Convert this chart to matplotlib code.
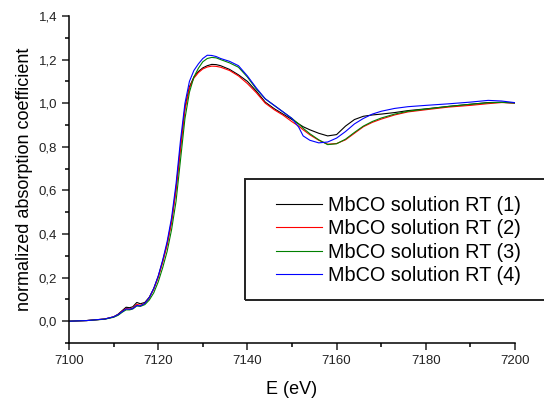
import matplotlib
matplotlib.use("Agg")
from matplotlib import pyplot as plt
from matplotlib.patches import Rectangle
from matplotlib.ticker import MultipleLocator, FuncFormatter

plt.rcParams["font.family"] = ["Liberation Sans", "DejaVu Sans"]

# energy grid (eV)
energy = [7100, 7104, 7108, 7110, 7111, 7112, 7112.8, 7113.6, 7114.3, 7115.2,
          7116, 7117, 7118, 7119, 7120, 7121, 7122, 7123, 7124, 7125,
          7126, 7127, 7128, 7129, 7130, 7131, 7132, 7133, 7134, 7136,
          7138, 7140, 7142, 7144, 7146, 7148, 7150, 7151.5, 7152.5, 7154,
          7156, 7158, 7160, 7162, 7164, 7166, 7168, 7170, 7173, 7176,
          7180, 7185, 7190, 7194, 7197, 7201]

mbco_1 = [0.0, 0.003, 0.01, 0.02, 0.032, 0.05, 0.064, 0.062, 0.066, 0.086,
          0.08, 0.086, 0.11, 0.15, 0.205, 0.275, 0.355, 0.46, 0.61, 0.8,
          0.98, 1.075, 1.12, 1.145, 1.162, 1.172, 1.178, 1.177, 1.172, 1.155,
          1.13, 1.1, 1.055, 1.005, 0.975, 0.95, 0.925, 0.905, 0.892, 0.878,
          0.862, 0.85, 0.856, 0.895, 0.925, 0.94, 0.946, 0.95, 0.957, 0.966,
          0.974, 0.985, 0.995, 1.003, 1.004, 1.0]

mbco_2 = [0.0, 0.003, 0.01, 0.02, 0.03, 0.047, 0.058, 0.056, 0.06, 0.077,
          0.073, 0.082, 0.107, 0.147, 0.2, 0.27, 0.35, 0.455, 0.6, 0.79,
          0.97, 1.07, 1.115, 1.14, 1.157, 1.166, 1.17, 1.169, 1.165, 1.15,
          1.125, 1.09, 1.048, 1.0, 0.97, 0.945, 0.915, 0.895, 0.878, 0.855,
          0.83, 0.812, 0.815, 0.832, 0.862, 0.892, 0.912, 0.927, 0.946, 0.96,
          0.97, 0.982, 0.99, 0.998, 1.003, 1.0]

mbco_3 = [0.0, 0.003, 0.009, 0.018, 0.027, 0.042, 0.052, 0.052, 0.056, 0.07,
          0.068, 0.076, 0.097, 0.13, 0.18, 0.245, 0.32, 0.42, 0.55, 0.74,
          0.93, 1.05, 1.12, 1.16, 1.19, 1.205, 1.21, 1.208, 1.2, 1.185,
          1.165, 1.12, 1.065, 1.02, 0.99, 0.96, 0.93, 0.905, 0.885, 0.86,
          0.832, 0.81, 0.814, 0.835, 0.866, 0.895, 0.916, 0.932, 0.95, 0.963,
          0.973, 0.985, 0.995, 1.002, 1.004, 1.0]

mbco_4 = [0.0, 0.003, 0.01, 0.02, 0.03, 0.045, 0.056, 0.055, 0.058, 0.072,
          0.07, 0.082, 0.108, 0.15, 0.207, 0.28, 0.365, 0.475, 0.63, 0.83,
          1.0, 1.1, 1.15, 1.18, 1.205, 1.22, 1.219, 1.214, 1.205, 1.192,
          1.172, 1.125, 1.07, 1.02, 0.99, 0.96, 0.93, 0.89, 0.85, 0.83,
          0.818, 0.822, 0.84, 0.87, 0.905, 0.93, 0.95, 0.963, 0.976, 0.984,
          0.99, 0.997, 1.005, 1.013, 1.01, 1.0]

labels = ["MbCO solution RT (1)", "MbCO solution RT (2)",
          "MbCO solution RT (3)", "MbCO solution RT (4)"]
colors = ["black", "red", "#008000", "blue"]

fig = plt.figure(figsize=(5.44, 4.0), dpi=100)
ax = fig.add_axes([69/544, 1-343/400, 446/544, 327/400])

for vals, lab, c in zip([mbco_1, mbco_2, mbco_3, mbco_4], labels, colors):
    ax.plot(energy, vals, color=c, linewidth=0.8, label=lab)

ax.set_xlim(7100, 7200)
ax.set_ylim(-0.1, 1.4)
ax.xaxis.set_major_locator(MultipleLocator(20))
ax.xaxis.set_minor_locator(MultipleLocator(10))
ax.yaxis.set_major_locator(MultipleLocator(0.2))
ax.yaxis.set_minor_locator(MultipleLocator(0.1))
ax.yaxis.set_major_formatter(FuncFormatter(lambda v, p: ("%.1f" % v).replace(".", ",")))

ax.spines["top"].set_visible(False)
ax.spines["right"].set_visible(False)
ax.spines["left"].set_linewidth(1.1)
ax.spines["bottom"].set_linewidth(1.1)
ax.tick_params(which="major", direction="out", length=5, width=1.1, labelsize=9.5, colors="#222222")
ax.tick_params(which="minor", direction="out", length=3, width=1.1)

ax.set_xlabel("E (eV)", fontsize=13, labelpad=10)
ax.set_ylabel("normalized absorption coefficient", fontsize=13, labelpad=4)

# legend frame runs off the right edge, as in the original
fig.patches.append(Rectangle((245/544, 1-300/400), 0.6, 121/400, transform=fig.transFigure,
                             fill=False, edgecolor="#222222", linewidth=1.4, clip_on=False))
fig.legend(loc="upper left", bbox_to_anchor=(276/544, 1-196/400), bbox_transform=fig.transFigure,
           frameon=False, fontsize=14.3, handlelength=2.3, handletextpad=0.3,
           labelspacing=0.22, borderpad=0, borderaxespad=0)

fig.savefig("out.png", dpi=100)
